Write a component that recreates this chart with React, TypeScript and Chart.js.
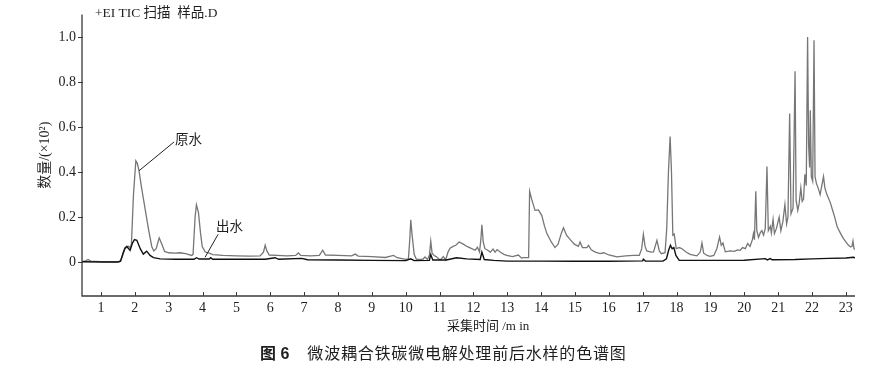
import React, { useEffect, useRef } from 'react';
import { Chart, registerables } from 'chart.js';

Chart.register(...registerables);

// 原水 (raw water) — retention time (min) and abundance (×10²)
const rawTimes = [
  0.45, 0.55, 0.62, 0.7, 1.0, 1.3, 1.55, 1.62, 1.71, 1.8, 1.86, 1.9, 1.96, 2.03, 2.07, 2.12, 2.2, 2.3, 2.4, 2.5,
  2.56, 2.63, 2.72, 2.8, 2.88, 3.0, 3.2, 3.34, 3.5, 3.68, 3.72, 3.78, 3.82, 3.88, 3.94, 3.99, 4.08, 4.2, 4.3, 4.6,
  5.0, 5.4, 5.7, 5.8, 5.85, 5.9, 5.97, 6.2, 6.5, 6.75, 6.83, 6.9, 7.2, 7.45, 7.55, 7.63, 8.0, 8.4, 8.51, 8.6,
  9.0, 9.4, 9.64, 9.75, 10.0, 10.08, 10.12, 10.15, 10.19, 10.25, 10.32, 10.5, 10.57, 10.64, 10.7, 10.74, 10.78, 10.84, 10.9, 11.02,
  11.11, 11.18, 11.25, 11.31, 11.4, 11.48, 11.58, 11.7, 11.81, 11.95, 12.05, 12.12, 12.18, 12.22, 12.25, 12.29, 12.34, 12.42, 12.5, 12.58,
  12.64, 12.7, 12.79, 12.9, 12.99, 13.15, 13.33, 13.42, 13.48, 13.6, 13.63, 13.66, 13.72, 13.82, 13.92, 14.02, 14.1, 14.17, 14.3, 14.41,
  14.5, 14.6, 14.66, 14.75, 14.86, 14.98, 15.1, 15.15, 15.22, 15.35, 15.4, 15.48, 15.6, 15.74, 15.85, 16.0, 16.24, 16.5, 16.73, 16.9,
  16.97, 17.02, 17.07, 17.12, 17.25, 17.32, 17.42, 17.49, 17.55, 17.66, 17.71, 17.76, 17.81, 17.85, 17.89, 17.93, 17.99, 18.08, 18.16, 18.28,
  18.4, 18.6, 18.7, 18.75, 18.8, 18.9, 18.99, 19.1, 19.19, 19.27, 19.32, 19.37, 19.44, 19.58, 19.7, 19.8, 19.88, 19.95, 20.03, 20.1,
  20.17, 20.24, 20.27, 20.3, 20.34, 20.37, 20.42, 20.47, 20.52, 20.57, 20.62, 20.67, 20.71, 20.77, 20.8, 20.85, 20.89, 20.95, 21.03, 21.08,
  21.14, 21.2, 21.25, 21.29, 21.34, 21.38, 21.44, 21.5, 21.53, 21.58, 21.62, 21.67, 21.71, 21.75, 21.79, 21.83, 21.87, 21.9, 21.93, 21.95,
  21.98, 22.02, 22.06, 22.09, 22.13, 22.18, 22.24, 22.29, 22.34, 22.38, 22.44, 22.5, 22.55, 22.6, 22.67, 22.74, 22.8, 22.87, 22.93, 23.0,
  23.08, 23.13, 23.18, 23.21, 23.24, 23.27,
];
const rawValues = [
  0.004, 0.006, 0.012, 0.005, 0.003, 0.002, 0.003, 0.02, 0.06, 0.072, 0.065, 0.08, 0.3, 0.45, 0.44, 0.41, 0.33, 0.24, 0.15, 0.07,
  0.05, 0.06, 0.108, 0.08, 0.048, 0.042, 0.04, 0.042, 0.038, 0.03, 0.035, 0.2, 0.255, 0.22, 0.13, 0.07, 0.045, 0.04, 0.034, 0.03,
  0.028, 0.027, 0.028, 0.045, 0.075, 0.05, 0.032, 0.03, 0.028, 0.03, 0.041, 0.03, 0.028, 0.03, 0.053, 0.032, 0.03, 0.028, 0.036, 0.027,
  0.025, 0.021, 0.03, 0.02, 0.013, 0.015, 0.1, 0.188, 0.12, 0.035, 0.012, 0.012, 0.023, 0.012, 0.03, 0.093, 0.04, 0.03, 0.025, 0.009,
  0.025, 0.01, 0.045, 0.062, 0.07, 0.075, 0.09, 0.08, 0.07, 0.06, 0.053, 0.066, 0.045, 0.1, 0.166, 0.09, 0.06, 0.053, 0.045, 0.058,
  0.045, 0.056, 0.045, 0.035, 0.03, 0.025, 0.032, 0.018, 0.02, 0.02, 0.02, 0.315, 0.28, 0.23, 0.232, 0.207, 0.16, 0.127, 0.09, 0.065,
  0.08, 0.13, 0.153, 0.12, 0.1, 0.08, 0.07, 0.09, 0.065, 0.065, 0.075, 0.055, 0.045, 0.038, 0.042, 0.032, 0.024, 0.028, 0.03, 0.03,
  0.06, 0.124, 0.07, 0.05, 0.045, 0.046, 0.097, 0.05, 0.038, 0.042, 0.15, 0.4, 0.558, 0.4, 0.12, 0.125, 0.06, 0.065, 0.06, 0.045,
  0.035, 0.028, 0.045, 0.085, 0.04, 0.03, 0.026, 0.03, 0.06, 0.112, 0.075, 0.085, 0.046, 0.05, 0.048, 0.055, 0.053, 0.065, 0.06, 0.083,
  0.07, 0.1, 0.127, 0.1, 0.315, 0.14, 0.11, 0.13, 0.14, 0.12, 0.15, 0.425, 0.14, 0.16, 0.13, 0.19, 0.127, 0.15, 0.2, 0.14,
  0.18, 0.256, 0.17, 0.2, 0.66, 0.215, 0.24, 0.848, 0.274, 0.23, 0.26, 0.33, 0.27, 0.28, 0.39, 0.34, 1.0, 0.52, 0.42, 0.675,
  0.38, 0.36, 0.985, 0.38, 0.35, 0.33, 0.3, 0.34, 0.38, 0.33, 0.3, 0.28, 0.26, 0.235, 0.2, 0.16, 0.14, 0.12, 0.105, 0.09,
  0.075, 0.068, 0.07, 0.094, 0.06, 0.056,
];

// 出水 (treated effluent)
const effTimes = [
  0.45, 1.0, 1.5, 1.58, 1.65, 1.71, 1.76, 1.82, 1.86, 1.93, 1.99, 2.06, 2.16, 2.25, 2.35, 2.45, 2.55, 2.75, 3.2, 3.75,
  3.82, 3.9, 4.2, 4.24, 4.3, 5.0, 5.85, 6.14, 6.25, 6.93, 7.1, 8.0, 9.0, 10.0, 10.15, 10.25, 10.7, 10.74, 10.8, 11.2,
  11.5, 11.8, 12.2, 12.25, 12.32, 12.6, 13.0, 14.0, 15.0, 16.0, 17.0, 17.02, 17.08, 17.6, 17.7, 17.77, 17.82, 17.87, 17.92, 17.98,
  18.08, 19.0, 20.0, 20.62, 20.68, 20.77, 20.82, 21.5, 22.0, 22.5, 23.0, 23.22, 23.27,
];
const effValues = [
  0.002, 0.001, 0.001, 0.005, 0.04, 0.063, 0.07, 0.06, 0.053, 0.085, 0.1, 0.097, 0.06, 0.036, 0.049, 0.03, 0.02, 0.015, 0.013, 0.013,
  0.02, 0.014, 0.014, 0.02, 0.013, 0.013, 0.013, 0.02, 0.013, 0.017, 0.011, 0.01, 0.008, 0.007, 0.015, 0.007, 0.008, 0.034, 0.01, 0.01,
  0.02, 0.015, 0.012, 0.045, 0.012, 0.008, 0.005, 0.005, 0.004, 0.004, 0.006, 0.013, 0.005, 0.005, 0.015, 0.055, 0.075, 0.06, 0.065, 0.03,
  0.008, 0.008, 0.009, 0.016, 0.01, 0.016, 0.011, 0.012, 0.015, 0.017, 0.019, 0.022, 0.02,
];

const seriesNames = ['原水', '出水'];
const xTickValues = [1, 2, 3, 4, 5, 6, 7, 8, 9, 10, 11, 12, 13, 14, 15, 16, 17, 18, 19, 20, 21, 22, 23];
const yTickValues = [0, 0.2, 0.4, 0.6, 0.8, 1.0];

// leader lines for the series labels: [from time, from value, to time, to value]
const leaderRaw = [2.125, 0.406, 3.16, 0.534];
const leaderEff = [4.075, 0.022, 4.46, 0.124];

const chartTitle = '+EI TIC 扫描  样品.D';
const xTitle = '采集时间 /m in';
const yTitle = '数量/(×10²)';
const captionLabel = '图 6';
const captionText = '微波耦合铁碳微电解处理前后水样的色谱图';

const AXIS_COLOR = '#3a3a3a';
const TEXT_COLOR = '#1e1e1e';

const axesPlugin = {
  id: 'axesAndLabels',
  afterDatasetsDraw(chart: any) {
    const { ctx, chartArea } = chart;
    const xs = chart.scales.x;
    const ys = chart.scales.y;
    ctx.save();
    ctx.strokeStyle = AXIS_COLOR;
    ctx.lineWidth = 1.3;
    ctx.beginPath();
    ctx.moveTo(chartArea.left, chartArea.top);
    ctx.lineTo(chartArea.left, chartArea.bottom);
    ctx.lineTo(chartArea.right, chartArea.bottom);
    ctx.stroke();
    ctx.lineWidth = 1;
    ctx.beginPath();
    for (const v of yTickValues) {
      const py = Math.round(ys.getPixelForValue(v)) + 0.5;
      ctx.moveTo(chartArea.left - 4, py);
      ctx.lineTo(chartArea.left + 1, py);
    }
    for (const v of xTickValues) {
      const px = Math.round(xs.getPixelForValue(v)) + 0.5;
      ctx.moveTo(px, chartArea.bottom);
      ctx.lineTo(px, chartArea.bottom - 4);
    }
    ctx.stroke();

    // leader lines and labels
    ctx.strokeStyle = '#222';
    ctx.lineWidth = 1;
    ctx.fillStyle = TEXT_COLOR;
    ctx.font = '13.5px "Noto Sans CJK SC"';
    ctx.textBaseline = 'middle';
    ctx.textAlign = 'left';
    const leaders = [leaderRaw, leaderEff];
    leaders.forEach((l, i) => {
      const x1 = xs.getPixelForValue(l[0]);
      const y1 = ys.getPixelForValue(l[1]);
      const x2 = xs.getPixelForValue(l[2]);
      const y2 = ys.getPixelForValue(l[3]);
      ctx.beginPath();
      ctx.moveTo(x1, y1);
      ctx.lineTo(x2, y2);
      ctx.stroke();
      if (i === 0) ctx.fillText(seriesNames[0], x2 + 1, y2 - 3);
      else ctx.fillText(seriesNames[1], x2 - 2, y2 - 8);
    });
    ctx.restore();
  },
};

export default function App() {
  const ref = useRef<HTMLCanvasElement | null>(null);

  useEffect(() => {
    if (!ref.current) return;
    const rawData = rawTimes.map((t, i) => ({ x: t, y: rawValues[i] }));
    const effData = effTimes.map((t, i) => ({ x: t, y: effValues[i] }));
    const chart = new Chart(ref.current, {
      type: 'line',
      data: {
        datasets: [
          {
            label: seriesNames[1],
            data: effData,
            borderColor: '#111111',
            borderWidth: 1.4,
            pointRadius: 0,
            tension: 0,
            fill: false,
          },
          {
            label: seriesNames[0],
            data: rawData,
            borderColor: '#767676',
            borderWidth: 1.3,
            pointRadius: 0,
            tension: 0,
            fill: false,
          },
        ],
      },
      options: {
        responsive: false,
        animation: false,
        events: [],
        layout: { padding: { top: 13, right: 22, left: 0, bottom: 0 } },
        plugins: {
          legend: { display: false },
          tooltip: { enabled: false },
        },
        scales: {
          x: {
            type: 'linear',
            min: 0.44,
            max: 23.27,
            grid: { display: false, drawTicks: false },
            border: { display: false },
            afterBuildTicks: (scale: any) => {
              scale.ticks = xTickValues.map((v) => ({ value: v }));
            },
            afterFit: (scale: any) => {
              scale.height = 71;
            },
            ticks: {
              autoSkip: false,
              maxRotation: 0,
              padding: 4,
              color: TEXT_COLOR,
              font: { family: '"Liberation Serif"', size: 14 },
              callback: (v: any) => String(v),
            },
          },
          y: {
            type: 'linear',
            min: -0.15,
            max: 1.1,
            grid: { display: false, drawTicks: false },
            border: { display: false },
            afterBuildTicks: (scale: any) => {
              scale.ticks = yTickValues.map((v) => ({ value: v }));
            },
            afterFit: (scale: any) => {
              scale.width = 82;
            },
            ticks: {
              padding: 6,
              color: TEXT_COLOR,
              font: { family: '"Liberation Serif"', size: 14 },
              callback: (v: any) => (v === 0 ? '0' : Number(v).toFixed(1)),
            },
            title: {
              display: true,
              text: yTitle,
              color: TEXT_COLOR,
              padding: { top: 37, bottom: 0 },
              font: { family: '"Liberation Serif", "Noto Sans CJK SC"', size: 14 },
            },
          },
        },
      },
      plugins: [axesPlugin],
    });
    return () => chart.destroy();
  }, []);

  const textBase: React.CSSProperties = {
    position: 'absolute',
    whiteSpace: 'pre',
    color: TEXT_COLOR,
    margin: 0,
  };

  return (
    <div
      style={{
        position: 'fixed',
        left: 0,
        top: 0,
        width: 877,
        height: 367,
        background: '#ffffff',
        overflow: 'hidden',
      }}
    >
      <canvas ref={ref} width={877} height={367} style={{ position: 'absolute', left: 0, top: 0 }} />
      <div
        style={{
          ...textBase,
          left: 95,
          top: 4,
          fontSize: 13.5,
          lineHeight: '17px',
          fontFamily: '"Liberation Serif", "Noto Sans CJK SC"',
        }}
      >
        {chartTitle}
      </div>
      <div
        style={{
          ...textBase,
          left: 447,
          top: 317,
          fontSize: 13,
          lineHeight: '17px',
          fontFamily: '"Liberation Serif", "Noto Sans CJK SC"',
        }}
      >
        {xTitle}
      </div>
      <div
        style={{
          ...textBase,
          left: 260,
          top: 343,
          fontSize: 16,
          lineHeight: '19px',
          fontFamily: '"Noto Sans CJK SC"',
        }}
      >
        <span style={{ fontWeight: 700, fontFamily: '"Liberation Sans", "Noto Sans CJK SC"' }}>{captionLabel}</span>
        <span style={{ marginLeft: 18, letterSpacing: '0.8px' }}>{captionText}</span>
      </div>
    </div>
  );
}
